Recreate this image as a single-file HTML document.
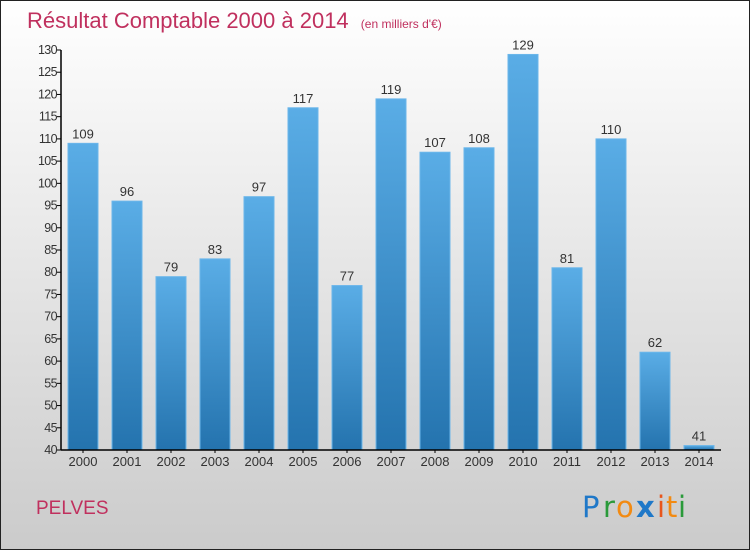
<!DOCTYPE html>
<html><head><meta charset="utf-8"><style>
html,body{margin:0;padding:0}
body{width:750px;height:550px;overflow:hidden}
svg{display:block;font-family:"Liberation Sans","DejaVu Sans",sans-serif}
</style></head><body>
<svg width="750" height="550" viewBox="0 0 750 550">
<defs>
<linearGradient id="bg" x1="0" y1="0" x2="0" y2="1"><stop offset="0" stop-color="#ffffff"/><stop offset="1" stop-color="#cbcbcb"/></linearGradient>
<linearGradient id="bar" x1="0" y1="0" x2="0" y2="1"><stop offset="0" stop-color="#5aade6"/><stop offset="1" stop-color="#2473ae"/></linearGradient>
</defs>
<rect x="0.5" y="0.5" width="749" height="549" fill="url(#bg)" stroke="#222"/>
<text x="27" y="28" font-size="22" fill="#c0305e">Résultat Comptable 2000 à 2014 <tspan font-size="12" dx="6" fill="#c0305e">(en milliers d'€)</tspan></text>
<g id="plot"></g>
<text x="36" y="514" font-size="19" fill="#c0305e">PELVES</text>
<g font-size="29" font-family="'DejaVu Sans',sans-serif">
<text x="582" y="517" fill="#1f78c8">P</text><text x="603" y="517" fill="#2a9a3a">r</text><text x="616" y="517" fill="#f28a12">o</text><text x="636" y="517" fill="#1f78c8" font-weight="bold">x</text><text x="657" y="517" fill="#e8561c">i</text><text x="666" y="517" fill="#f28a12">t</text><text x="678" y="517" fill="#2a9a3a">i</text>
</g>
</svg>
<script>
const categories=["2000","2001","2002","2003","2004","2005","2006","2007","2008","2009","2010","2011","2012","2013","2014"];
const values=[109,96,79,83,97,117,77,119,107,108,129,81,110,62,41];
const yTicks=[40,45,50,55,60,65,70,75,80,85,90,95,100,105,110,115,120,125,130];
const NS="http://www.w3.org/2000/svg";
const g=document.getElementById('plot');
const x0=61,x1=721,yMin=40,yMax=130,yTop=50,yBot=450;
const slot=(x1-x0)/categories.length;
function yS(v){return yBot-(v-yMin)/(yMax-yMin)*(yBot-yTop);}
function xC(i){return x0+slot*(i+0.5);}
function mk(t,a){const e=document.createElementNS(NS,t);for(const k in a)e.setAttribute(k,a[k]);g.appendChild(e);return e;}
values.forEach((v,i)=>{
 const r=mk('rect',{x:xC(i)-15,y:yS(v),width:30,height:yBot-yS(v),fill:'url(#bar)',stroke:'#6bb6ea','stroke-width':1});
 
 
 const t=mk('text',{x:xC(i),y:yS(v)-5,'font-size':13,fill:'#333','text-anchor':'middle'});t.textContent=v;
 
 
 const c=mk('text',{x:xC(i),y:466,'font-size':13,fill:'#333','text-anchor':'middle'});c.textContent=categories[i];
 
 
 mk('line',{x1:xC(i),x2:xC(i),y1:yBot,y2:yBot+3,stroke:'#000'});
});
yTicks.forEach(v=>{
 mk('line',{x1:x0-4,x2:x0,y1:yS(v),y2:yS(v),stroke:'#000'});
 const t=mk('text',{x:x0-4,y:yS(v)+4,'font-size':12.5,fill:'#333','text-anchor':'end','letter-spacing':'-0.6'});t.textContent=v;
 
 
});
const ya=mk('line',{x1:x0,x2:x0,y1:yTop,y2:yBot,stroke:'#000','stroke-width':1.5});


const xa=mk('line',{x1:x0,x2:x1,y1:yBot,y2:yBot,stroke:'#000','stroke-width':1.5});


</script>
</body></html>
